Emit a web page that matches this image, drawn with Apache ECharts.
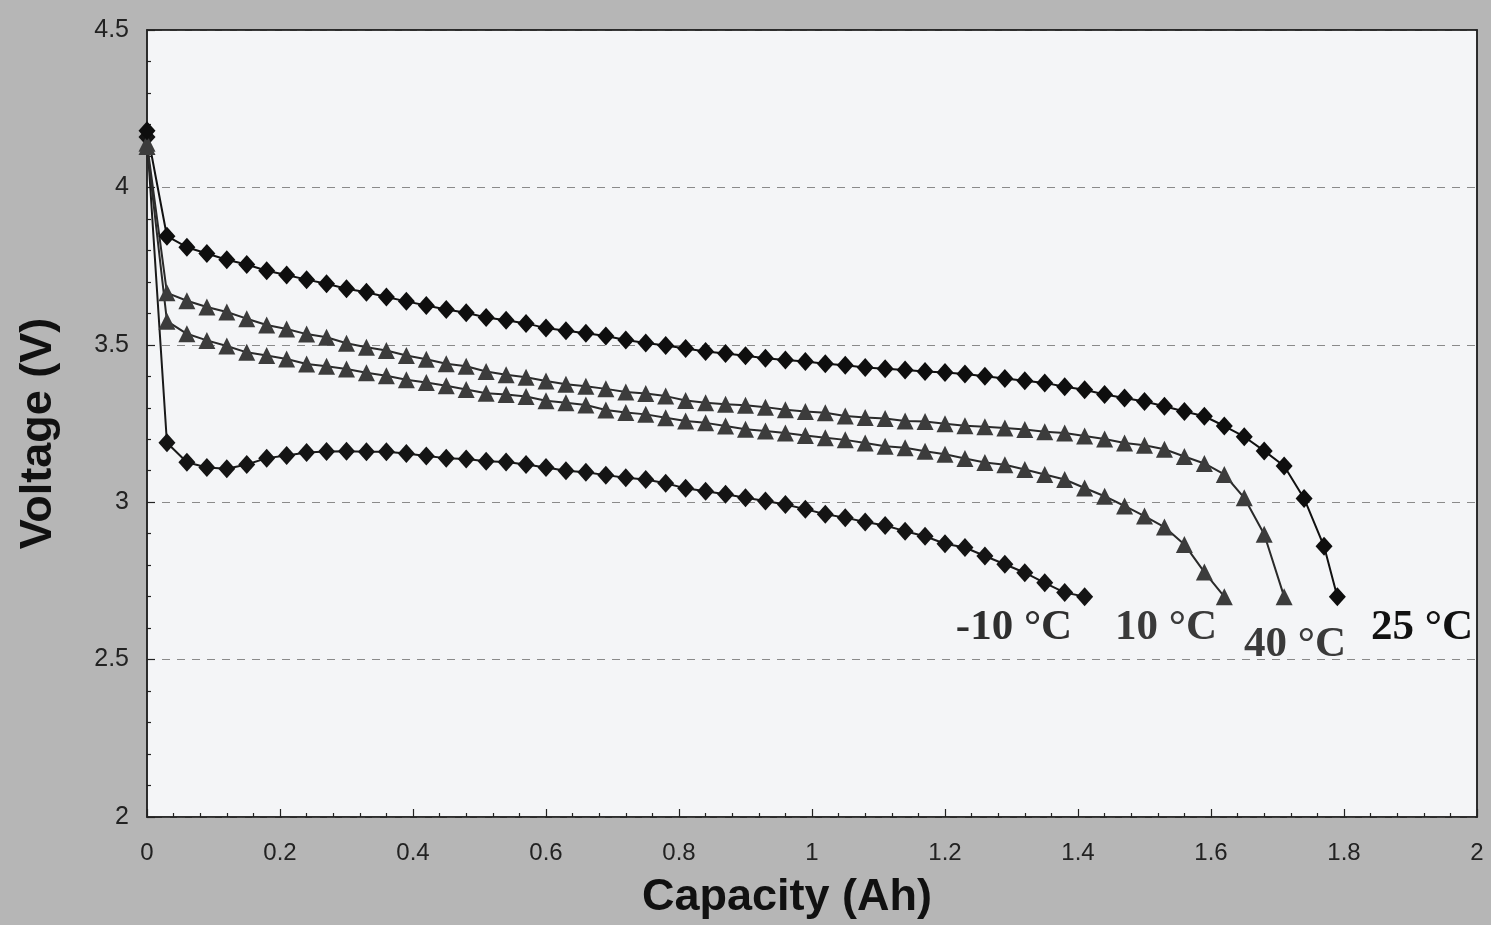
<!DOCTYPE html>
<html>
<head>
<meta charset="utf-8">
<script src="https://cdn.jsdelivr.net/npm/echarts@6/dist/echarts.min.js"></script>
<style>
html,body{margin:0;padding:0;background:#b6b6b6;}
#chart{width:1491px;height:925px;}
</style>
</head>
<body>
<div id="chart"></div>
<script>
// Capacity (Ah) sample points
const cap25 = [0,0.03,0.06,0.09,0.12,0.15,0.18,0.21,0.24,0.27,0.30,0.33,0.36,0.39,0.42,0.45,0.48,0.51,0.54,0.57,0.60,0.63,0.66,0.69,0.72,0.75,0.78,0.81,0.84,0.87,0.90,0.93,0.96,0.99,1.02,1.05,1.08,1.11,1.14,1.17,1.20,1.23,1.26,1.29,1.32,1.35,1.38,1.41,1.44,1.47,1.50,1.53,1.56,1.59,1.62,1.65,1.68,1.71,1.74,1.77,1.79];
const v25 = [4.18,3.845,3.81,3.79,3.77,3.755,3.735,3.722,3.707,3.694,3.678,3.667,3.652,3.638,3.625,3.612,3.602,3.587,3.578,3.568,3.553,3.545,3.537,3.528,3.515,3.506,3.498,3.488,3.479,3.472,3.465,3.457,3.452,3.447,3.440,3.435,3.428,3.424,3.420,3.415,3.412,3.407,3.400,3.393,3.386,3.379,3.367,3.357,3.342,3.331,3.320,3.305,3.288,3.273,3.242,3.208,3.163,3.115,3.012,2.860,2.70];

const cap40 = [0,0.03,0.06,0.09,0.12,0.15,0.18,0.21,0.24,0.27,0.30,0.33,0.36,0.39,0.42,0.45,0.48,0.51,0.54,0.57,0.60,0.63,0.66,0.69,0.72,0.75,0.78,0.81,0.84,0.87,0.90,0.93,0.96,0.99,1.02,1.05,1.08,1.11,1.14,1.17,1.20,1.23,1.26,1.29,1.32,1.35,1.38,1.41,1.44,1.47,1.50,1.53,1.56,1.59,1.62,1.65,1.68,1.71];
const v40 = [4.14,3.665,3.640,3.620,3.604,3.583,3.563,3.550,3.534,3.524,3.505,3.492,3.482,3.466,3.454,3.440,3.432,3.415,3.405,3.397,3.385,3.375,3.368,3.360,3.350,3.345,3.337,3.323,3.316,3.311,3.308,3.302,3.294,3.288,3.284,3.274,3.269,3.266,3.258,3.256,3.249,3.243,3.240,3.236,3.231,3.224,3.220,3.210,3.201,3.188,3.181,3.168,3.145,3.123,3.088,3.014,2.898,2.70];

const cap10 = [0,0.03,0.06,0.09,0.12,0.15,0.18,0.21,0.24,0.27,0.30,0.33,0.36,0.39,0.42,0.45,0.48,0.51,0.54,0.57,0.60,0.63,0.66,0.69,0.72,0.75,0.78,0.81,0.84,0.87,0.90,0.93,0.96,0.99,1.02,1.05,1.08,1.11,1.14,1.17,1.20,1.23,1.26,1.29,1.32,1.35,1.38,1.41,1.44,1.47,1.50,1.53,1.56,1.59,1.62];
const v10 = [4.13,3.575,3.535,3.514,3.496,3.476,3.466,3.455,3.439,3.432,3.423,3.411,3.402,3.389,3.380,3.370,3.358,3.346,3.342,3.336,3.322,3.316,3.309,3.293,3.285,3.279,3.268,3.258,3.252,3.242,3.232,3.226,3.220,3.212,3.205,3.198,3.188,3.178,3.173,3.162,3.152,3.139,3.126,3.119,3.104,3.088,3.072,3.045,3.019,2.988,2.956,2.921,2.866,2.778,2.70];

const capM10 = [0,0.03,0.06,0.09,0.12,0.15,0.18,0.21,0.24,0.27,0.30,0.33,0.36,0.39,0.42,0.45,0.48,0.51,0.54,0.57,0.60,0.63,0.66,0.69,0.72,0.75,0.78,0.81,0.84,0.87,0.90,0.93,0.96,0.99,1.02,1.05,1.08,1.11,1.14,1.17,1.20,1.23,1.26,1.29,1.32,1.35,1.38,1.41];
const vM10 = [4.16,3.189,3.127,3.110,3.106,3.120,3.140,3.148,3.158,3.161,3.162,3.160,3.160,3.155,3.147,3.140,3.137,3.130,3.128,3.120,3.110,3.100,3.095,3.086,3.078,3.072,3.060,3.044,3.035,3.025,3.014,3.004,2.993,2.978,2.962,2.951,2.937,2.926,2.908,2.892,2.868,2.856,2.829,2.803,2.776,2.744,2.713,2.70];

const seriesNames = ['25 °C','40 °C','10 °C','-10 °C'];
const labelText = ['-10 °C','10 °C','40 °C','25 °C'];

function pairs(xs, ys){ return xs.map((x,i)=>[x, ys[i]]); }

const chart = echarts.init(document.getElementById('chart'), null, {renderer:'canvas'});

function mkSeries(name, xs, ys, symbol, size, color, lineColor){
  return {
    name, type:'line', data: pairs(xs, ys), symbol, symbolSize:size,
    showSymbol:true, smooth:false, z:3,
    itemStyle:{color:color, borderWidth:0},
    lineStyle:{color:lineColor, width:2},
    emphasis:{disabled:true}, animation:false
  };
}

const option = {
  backgroundColor:'#b6b6b6',
  animation:false,
  grid:{left:147, right:14, top:30, bottom:107, show:true, backgroundColor:'#f4f5f7', borderColor:'#222', borderWidth:1.5},
  xAxis:[{
    type:'value', min:0, max:2, interval:0.2, z:5,
    name:'Capacity (Ah)', nameLocation:'middle', nameGap:58,
    nameTextStyle:{fontFamily:'Liberation Sans', fontWeight:'bold', fontSize:45, color:'#111', padding:[0,50,0,0]},
    axisLine:{show:true, onZero:false, lineStyle:{color:'#222', width:1.5}},
    axisTick:{show:true, inside:true, length:8, lineStyle:{color:'#222', width:1.2}},
    minorTick:{show:true, splitNumber:5, length:4, lineStyle:{color:'#222', width:1.2}},
    axisLabel:{fontFamily:'Liberation Sans', fontSize:24, color:'#222', margin:24},
    splitLine:{show:false}
  },{
    type:'value', min:0, max:2, position:'top', z:5,
    axisLine:{show:true, onZero:false, lineStyle:{color:'#222', width:1.5}},
    axisTick:{show:false}, axisLabel:{show:false}, splitLine:{show:false}
  }],
  yAxis:[{
    type:'value', min:2, max:4.5, interval:0.5, z:1,
    name:'Voltage (V)', nameLocation:'middle', nameGap:86, nameRotate:90,
    nameTextStyle:{fontFamily:'Liberation Sans', fontWeight:'bold', fontSize:45, color:'#111', padding:[0,20,0,0]},
    axisLine:{show:true, onZero:false, lineStyle:{color:'#222', width:1.5}},
    axisTick:{show:true, inside:true, length:8, lineStyle:{color:'#222', width:1.2}},
    minorTick:{show:true, splitNumber:5, length:4, lineStyle:{color:'#222', width:1.2}},
    axisLabel:{fontFamily:'Liberation Sans', fontSize:25, color:'#222', margin:18},
    splitLine:{show:true, lineStyle:{color:'#8a8a8a', type:[8,7], width:1}}
  },{
    type:'value', min:2, max:4.5, position:'right', z:5,
    axisLine:{show:true, onZero:false, lineStyle:{color:'#222', width:1.5}},
    axisTick:{show:false}, axisLabel:{show:false}, splitLine:{show:false}
  }],
  series:[
    mkSeries(seriesNames[3], capM10, vM10, 'diamond', [17,19], '#141414', '#1a1a1a'),
    mkSeries(seriesNames[2], cap10, v10, 'triangle', 17, '#3c3c3c', '#2a2a2a'),
    mkSeries(seriesNames[1], cap40, v40, 'triangle', 17, '#3c3c3c', '#2a2a2a'),
    mkSeries(seriesNames[0], cap25, v25, 'diamond', [17,19], '#0e0e0e', '#111')
  ],
  graphic:[
    {type:'text', x:1014, y:628, z:10, style:{text:labelText[0], fontFamily:'Liberation Serif', fontWeight:'bold', fontSize:43, fill:'#2e2e2e', align:'center', verticalAlign:'middle'}},
    {type:'text', x:1166, y:628, z:10, style:{text:labelText[1], fontFamily:'Liberation Serif', fontWeight:'bold', fontSize:43, fill:'#3a3a3a', align:'center', verticalAlign:'middle'}},
    {type:'text', x:1295, y:645, z:10, style:{text:labelText[2], fontFamily:'Liberation Serif', fontWeight:'bold', fontSize:43, fill:'#3a3a3a', align:'center', verticalAlign:'middle'}},
    {type:'text', x:1422, y:628, z:10, style:{text:labelText[3], fontFamily:'Liberation Serif', fontWeight:'bold', fontSize:43, fill:'#111', align:'center', verticalAlign:'middle'}}
  ]
};
chart.setOption(option);
</script>
</body>
</html>
